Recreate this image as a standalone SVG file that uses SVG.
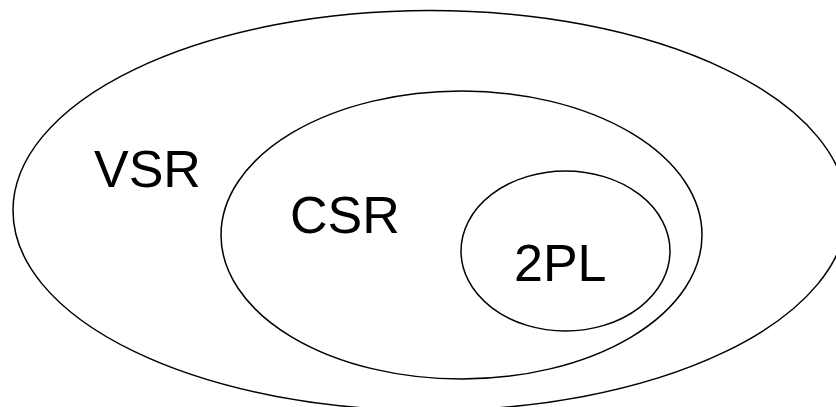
<svg xmlns="http://www.w3.org/2000/svg" width="836" height="407" viewBox="0 0 836 407">
<style>
.set{fill:none;stroke:#000;stroke-width:1.5}
.lbl{font-family:"Liberation Sans",Arial,sans-serif;font-size:52px;fill:#000}
</style>
<rect width="836" height="407" fill="#fff"/>
<g id="vsr">
<ellipse class="set" cx="430" cy="210.5" rx="417" ry="200"/>
<text class="lbl" x="94" y="187">VSR</text>
</g>
<g id="csr">
<ellipse class="set" cx="461.5" cy="235" rx="240.5" ry="144"/>
<text class="lbl" x="290" y="233">CSR</text>
</g>
<g id="twopl">
<ellipse class="set" cx="565.5" cy="251" rx="104.5" ry="80"/>
<text class="lbl" x="514" y="281">2PL</text>
</g>
<g id="connectors"/>
</svg>
